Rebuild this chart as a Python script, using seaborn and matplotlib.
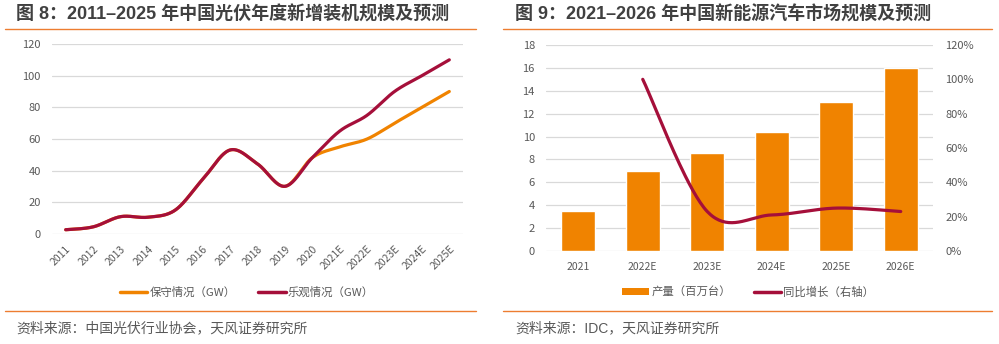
import numpy as np
import pandas as pd
import matplotlib
matplotlib.use("Agg")
import matplotlib.pyplot as plt
from matplotlib.lines import Line2D
from matplotlib.patches import Patch
import seaborn as sns

sns.set_theme(style="white")
plt.rcParams["font.family"] = ["Noto Sans CJK SC", "DejaVu Sans"]
plt.rcParams["axes.unicode_minus"] = False

# ---- data: PV annual new installations (GW) ----
pv_years = ["2011", "2012", "2013", "2014", "2015", "2016", "2017", "2018",
            "2019", "2020", "2021E", "2022E", "2023E", "2024E", "2025E"]
pv_conservative = [2.7, 4.5, 10.95, 10.6, 15.13, 34.54, 53.06, 44.26,
                   30.11, 48.2, 55, 60, 70, 80, 90]
pv_optimistic = [2.7, 4.5, 10.95, 10.6, 15.13, 34.54, 53.06, 44.26,
                 30.11, 48.2, 65, 75, 90, 100, 110]

# ---- data: NEV production (million units) and YoY growth ----
nev_years = ["2021", "2022E", "2023E", "2024E", "2025E", "2026E"]
nev_output = [3.5, 7.0, 8.6, 10.4, 13.0, 16.0]
nev_growth_years = ["2022E", "2023E", "2024E", "2025E", "2026E"]
nev_growth = [1.00, 0.23, 0.21, 0.25, 0.23]

ORANGE = "#F08300"
RED = "#A50F3A"
GRID = "#D9D9D9"
TXT = "#595959"
TITLE = "#404040"
RULE = "#ED7D31"
TITLE_FONT = ["Liberation Sans", "Noto Sans CJK SC"]


def smooth(xs, ys, n=40):
    """Bezier smoothing through points (cardinal spline style)."""
    xs = np.asarray(xs, float)
    ys = np.asarray(ys, float)
    P = np.column_stack([xs, ys])
    out = []
    for i in range(len(P) - 1):
        p0 = P[i - 1] if i > 0 else P[i]
        p1, p2 = P[i], P[i + 1]
        p3 = P[i + 2] if i + 2 < len(P) else P[i + 1]
        c1 = p1 + (p2 - p0) / 6.0
        c2 = p2 - (p3 - p1) / 6.0
        t = np.linspace(0, 1, n)[:, None]
        seg = ((1 - t) ** 3) * p1 + 3 * ((1 - t) ** 2) * t * c1 + 3 * (1 - t) * t ** 2 * c2 + t ** 3 * p2
        out.append(seg if i == 0 else seg[1:])
    S = np.vstack(out)
    return S[:, 0], S[:, 1]


W, H = 999, 344
fig = plt.figure(figsize=(W / 100, H / 100), dpi=100)


def box(x0, y0, x1, y1):
    return [x0 / W, 1 - y1 / H, (x1 - x0) / W, (y1 - y0) / H]


# ================= left chart =================
ax1 = fig.add_axes(box(52, 44, 463, 234))
idx = np.arange(len(pv_years))
xc, yc = smooth(idx, pv_conservative)
xo, yo = smooth(idx, pv_optimistic)
sns.lineplot(x=xc, y=yc, ax=ax1, color=ORANGE, lw=2.3, sort=False, estimator=None)
sns.lineplot(x=xo, y=yo, ax=ax1, color=RED, lw=2.3, sort=False, estimator=None)
ax1.set_xlim(-0.5, len(pv_years) - 0.5)
ax1.set_ylim(0, 120)
ax1.set_yticks(range(0, 121, 20))
ax1.set_xticks(idx)
ax1.set_xticklabels(pv_years, rotation=45, ha="right", rotation_mode="anchor")
ax1.grid(axis="y", color=GRID, lw=0.9)
ax1.set_axisbelow(True)
for s in ax1.spines.values():
    s.set_visible(False)
ax1.tick_params(axis="y", length=0, pad=8, labelsize=8, labelcolor=TXT)
ax1.tick_params(axis="x", length=0, pad=7, labelsize=7.5, labelcolor=TXT)
ax1.set_xlabel("")
ax1.set_ylabel("")

fig.legend(handles=[Line2D([], [], color=ORANGE, lw=2.5), Line2D([], [], color=RED, lw=2.5)],
           labels=["保守情况（GW）", "乐观情况（GW）"], loc="center",
           bbox_to_anchor=(247 / W, 1 - 292 / H), ncol=2, frameon=False,
           fontsize=8.2, labelcolor=TXT, handlelength=2.4, handletextpad=0.2,
           columnspacing=2.0)

# ================= right chart =================
ax2 = fig.add_axes(box(546, 45, 933, 251))
df_nev = pd.DataFrame({"year": nev_years, "output": nev_output})
sns.barplot(data=df_nev, x="year", y="output", ax=ax2, color=ORANGE,
            saturation=1, width=0.52)
ax2.set_xlim(-0.5, len(nev_years) - 0.5)
ax2.set_ylim(0, 18)
ax2.set_yticks(range(0, 19, 2))
ax2.grid(axis="y", color=GRID, lw=0.9)
ax2.set_axisbelow(True)
for s in ax2.spines.values():
    s.set_visible(False)
ax2.tick_params(axis="y", length=0, pad=8, labelsize=8, labelcolor=TXT)
ax2.tick_params(axis="x", length=0, pad=8, labelsize=7.5, labelcolor=TXT)
ax2.set_xlabel("")
ax2.set_ylabel("")

ax3 = ax2.twinx()
gpos = [nev_years.index(y) for y in nev_growth_years]
xg, yg = smooth(gpos, nev_growth)
sns.lineplot(x=xg, y=yg, ax=ax3, color=RED, lw=2.3, sort=False, estimator=None)
ax3.set_xlim(-0.5, len(nev_years) - 0.5)
ax3.set_ylim(0, 1.2)
ax3.set_yticks(np.arange(0, 1.21, 0.2))
ax3.set_yticklabels([f"{int(round(v * 100))}%" for v in np.arange(0, 1.21, 0.2)])
for s in ax3.spines.values():
    s.set_visible(False)
ax3.grid(False)
ax3.tick_params(axis="y", length=0, pad=9, labelsize=8, labelcolor=TXT)
ax3.set_ylabel("")

fig.legend(handles=[Patch(facecolor=ORANGE, edgecolor="none"), Line2D([], [], color=RED, lw=2.5)],
           labels=["产量（百万台）", "同比增长（右轴）"], loc="center",
           bbox_to_anchor=(748 / W, 1 - 292 / H), ncol=2, frameon=False,
           fontsize=8.2, labelcolor=TXT, handlelength=2.4, handleheight=0.6,
           handletextpad=0.2, columnspacing=2.0)

# ================= titles, rules, sources =================
fig.text(16 / W, 1 - 15 / H, "图 8：2011–2025 年中国光伏年度新增装机规模及预测",
         fontsize=13, fontweight="bold", color=TITLE, va="center", ha="left",
         family=TITLE_FONT)
fig.text(515 / W, 1 - 15 / H, "图 9：2021–2026 年中国新能源汽车市场规模及预测",
         fontsize=13, fontweight="bold", color=TITLE, va="center", ha="left",
         family=TITLE_FONT)
for x0, x1 in [(5, 476), (503, 992)]:
    for y in (29, 311):
        fig.add_artist(Line2D([x0 / W, x1 / W], [1 - y / H, 1 - y / H],
                              color=RULE, lw=1.0))
fig.text(16 / W, 1 - 328 / H, "资料来源：中国光伏行业协会，天风证券研究所",
         fontsize=10, color=TXT, va="center", ha="left")
fig.text(515 / W, 1 - 328 / H, "资料来源：IDC，天风证券研究所",
         fontsize=10, color=TXT, va="center", ha="left",
         family=["Liberation Sans", "Noto Sans CJK SC"])

fig.savefig("out.png", dpi=100, facecolor="white")
